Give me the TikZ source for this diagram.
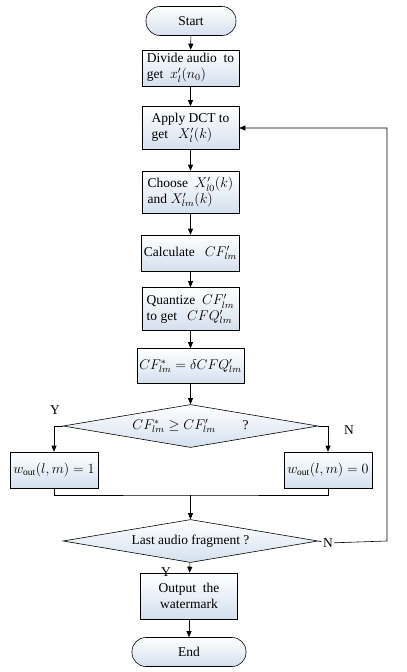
\documentclass[tikz,border=0pt]{standalone}
\usepackage{amsmath}
\usepackage{amssymb}
\usepackage{fontspec}
\setmainfont{Liberation Serif}
\usepackage{tikz}
\usetikzlibrary{shapes.geometric, arrows.meta, positioning}
\definecolor{boxblue}{RGB}{212,224,238}

\begin{document}
\begin{tikzpicture}[
    x=0.03cm, y=-0.03cm,
    line width=0.5pt,
    font=\fontsize{11.5}{13.5}\selectfont,
    procbox/.style={
      draw,
      top color=white,
      bottom color=boxblue,
      align=left,
      inner sep=2pt,
      minimum width=2.91cm,
      minimum height=1.08cm
    },
    termbox/.style={
      draw,
      rounded corners=4.2mm,
      top color=white,
      bottom color=boxblue,
      minimum height=0.87cm
    },
    decide/.style={
      draw,
      diamond,
      aspect=6,
      inner sep=0pt,
      top color=white,
      bottom color=boxblue,
      minimum width=7.65cm,
      minimum height=1.29cm
    },
    flow/.style={-{Triangle[length=1.8mm,width=1.5mm]}},
    tag/.style={inner sep=1pt}
  ]
    \useasboundingbox (0,0) rectangle (406,672);

    \node[termbox, minimum width=2.7cm] (start) at (191,21) {Start};
    \node[procbox] (divide) at (190.5,68) {Divide audio\ \ to\\ get\ \ $x'_l(n_0)$};
    \node[procbox, minimum height=1.29cm] (dct) at (190.5,128) {Apply DCT to\\get\ \ \ $X'_l(k)$};
    \node[procbox, minimum height=1.26cm] (choose) at (190.5,192) {Choose\ \ $X'_{l0}(k)$\\ and $X'_{lm}(k)$};
    \node[procbox] (calc) at (190.5,253) {Calculate\ \ \ $CF'_{lm}$};
    \node[procbox, minimum height=1.29cm] (quant) at (190.5,309) {Quantize\ \ $CF'_{lm}$\\to get\ \ \ $CFQ'_{lm}$};
    \node[procbox, minimum height=1.05cm, align=center] (scale) at (190.5,366) {$CF^{*}_{lm}=\delta CFQ'_{lm}$};
    \node[decide] (check) at (190.5,426) {$CF^{*}_{lm}\geq CF'_{lm}$\qquad ?};
    \node[procbox, minimum width=2.64cm, align=center] (one) at (54,470) {$w_{\mathrm{out}}(l,m)=1$};
    \node[procbox, minimum width=2.64cm, align=center] (zero) at (328,470) {$w_{\mathrm{out}}(l,m)=0$};
    \coordinate (merge) at (190.5,495);
    \node[decide] (last) at (190.5,541) {Last audio fragment ?};
    \coordinate (back) at (387,541);
    \node[procbox, minimum height=1.38cm, align=center] (output) at (189,596) {Output\ \ the\\watermark};
    \node[termbox, minimum width=3.42cm] (end) at (189,652) {End};

    \node[tag] (yes1) at (55,410) {Y};
    \node[tag] (no1) at (349,430) {N};
    \node[tag, fill=white] (no2) at (328,543) {N};
    \node[tag] (yes2) at (166,572) {Y};

    \draw[flow] (start) -- (divide);
    \draw[flow] (divide) -- (dct);
    \draw[flow] (dct) -- (choose);
    \draw[flow] (choose) -- (calc);
    \draw[flow] (calc) -- (quant);
    \draw[flow] (quant) -- (scale);
    \draw[flow] (scale) -- (check);
    \draw[flow] (check.west) -| (one);
    \draw[flow] (check.east) -| (zero);
    \draw (one.south) |- (merge) -| (zero.south);
    \draw[flow] (merge) -- (last);
    \draw (last.east) -- (no2);
    \draw[flow] (no2) -- (back) |- (dct.east);
    \draw[flow] (last) -- (output);
    \draw[flow] (output) -- (end);
\end{tikzpicture}
\end{document}
